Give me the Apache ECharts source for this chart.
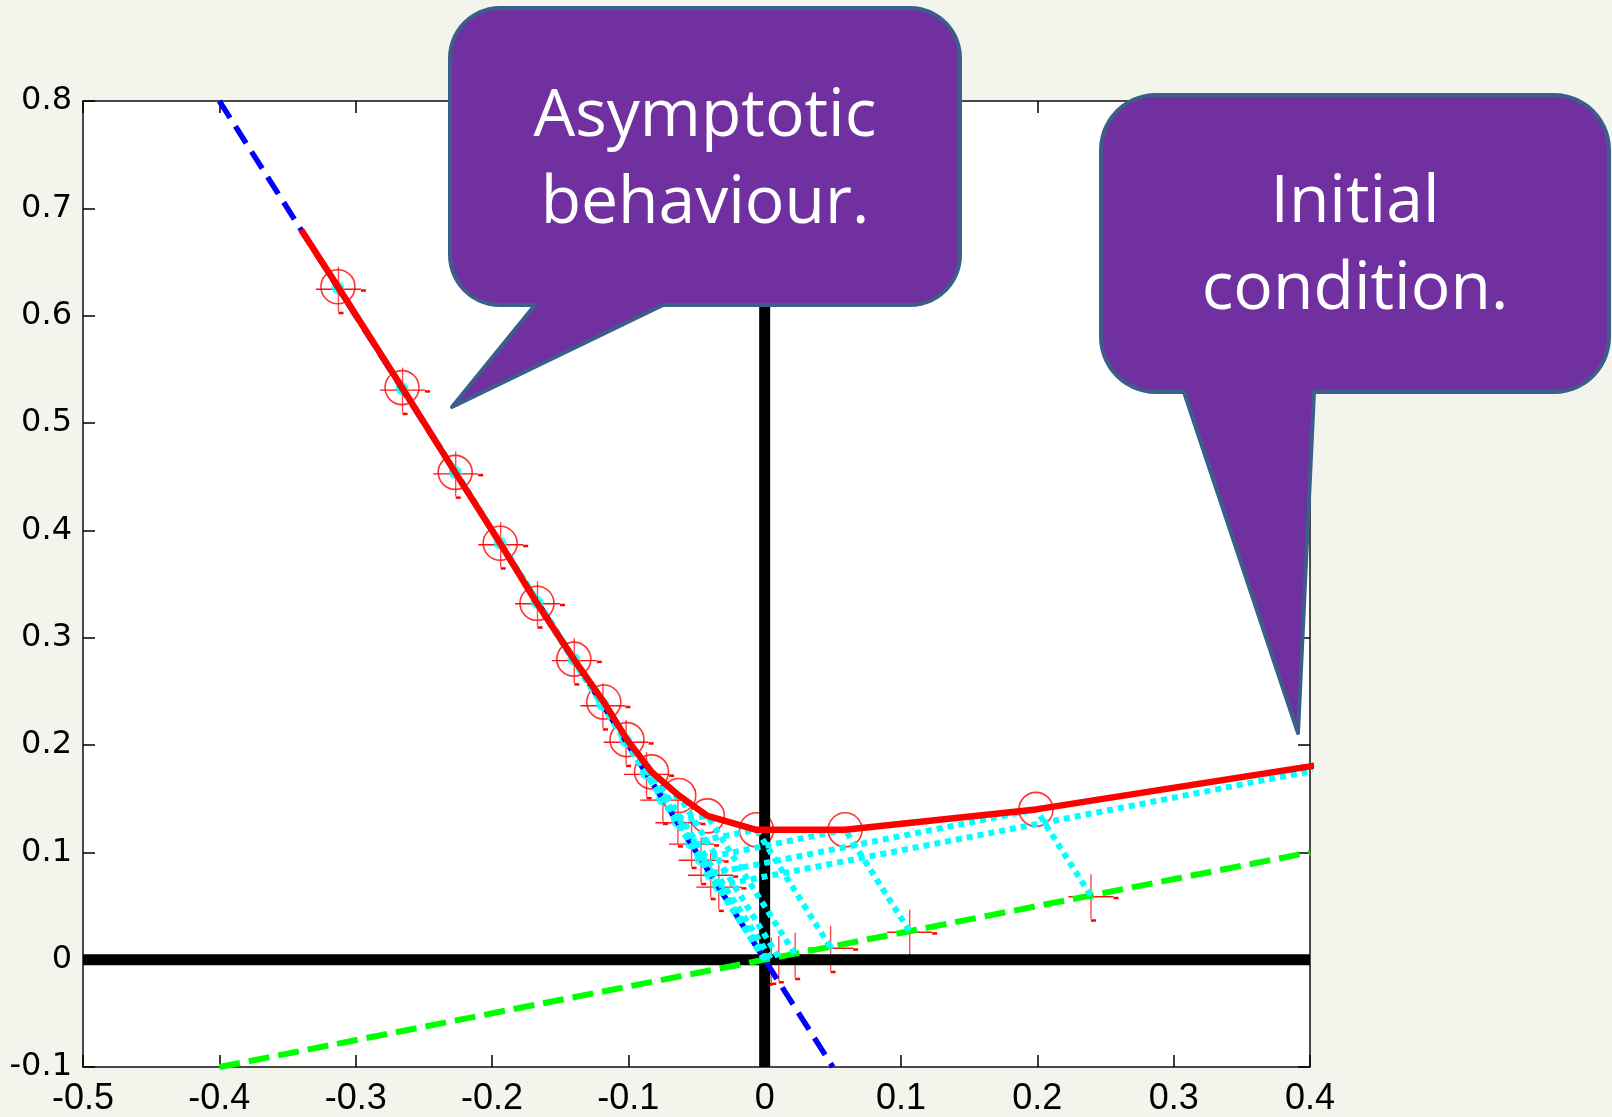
<!DOCTYPE html>
<html>
<head>
<meta charset="utf-8">
<script src="https://cdn.jsdelivr.net/npm/echarts@6/dist/echarts.min.js"></script>
<style>
html,body{margin:0;padding:0;background:#f3f5ed;}
#chart{width:1612px;height:1117px;}
</style>
</head>
<body>
<div id="chart"></div>
<script>
// ---- axis ranges ----
const X_MIN = -0.5, X_MAX = 0.4, X_STEP = 0.1;
const Y_MIN = -0.1, Y_MAX = 0.8, Y_STEP = 0.1;

// ---- reference lines (x, y pairs) ----
const zeroLineH = [[-0.5, 0], [0.4, 0]];
const zeroLineV = [[0, -0.1], [0, 0.8]];
const asymptoteLine = [[-0.4, 0.8], [0.05, -0.1]];   // blue dashed
const fastLine = [[-0.4, -0.1], [0.4, 0.1]];          // green dashed

// ---- trajectory (first point = initial condition, off to the right) ----
const trajX = [0.500, 0.199, 0.059, -0.006, -0.042, -0.063, -0.083, -0.101, -0.118, -0.140, -0.167, -0.194, -0.227, -0.266, -0.313];
const trajY = [0.200, 0.140, 0.121, 0.121, 0.134, 0.153, 0.175, 0.205, 0.240, 0.280, 0.332, 0.388, 0.454, 0.533, 0.627];
const trajEnd = [-0.340, 0.680];

// ---- components along the blue (asymptotic) direction ----
const asymX = [-0.034, -0.040, -0.047, -0.054, -0.064, -0.075, -0.087, -0.102, -0.119, -0.140, -0.167, -0.194, -0.227, -0.266, -0.313];
const asymY = [0.069, 0.080, 0.094, 0.109, 0.129, 0.150, 0.174, 0.204, 0.238, 0.280, 0.333, 0.388, 0.454, 0.532, 0.626];

// ---- components along the green (fast) direction ----
const fastX = [0.533, 0.239, 0.106, 0.048, 0.022, 0.010, 0.0045, 0.002, 0.001, 0.0004, 0.0002, 0.0001, 0.0, 0.0, 0.0];
const fastY = [0.133, 0.060, 0.027, 0.012, 0.0055, 0.0025, 0.0011, 0.0005, 0.00025, 0.0001, 0.00005, 0.0, 0.0, 0.0, 0.0];

// ---- callout texts ----
const callout1Lines = ['Asymptotic', 'behaviour.'];
const callout2Lines = ['Initial', 'condition.'];

// ---------------------------------------------------------------
const inRange = p => p[0] >= X_MIN && p[0] <= X_MAX && p[1] >= Y_MIN && p[1] <= Y_MAX;
const traj = trajX.map((x, i) => [x, trajY[i]]);
const asym = asymX.map((x, i) => [x, asymY[i]]);
const fast = fastX.map((x, i) => [x, fastY[i]]);

const RED = '#ff0000', CYAN = '#00ffff', BLUE = '#0000ff', GREEN = '#00ff00';

const series = [];
function addLine(data, color, width, dash) {
  series.push({
    type: 'line', data: data, symbol: 'none', silent: true, clip: true,
    lineStyle: { color: color, width: width, type: dash || 'solid', cap: 'butt' },
    animation: false
  });
}
addLine(zeroLineH, '#000', 11);
addLine(zeroLineV, '#000', 11);
addLine(asymptoteLine, BLUE, 5.5, [20, 10]);
addLine(fastLine, GREEN, 6, [21, 9]);
// cyan dotted construction segments (drawn from each component to the trajectory point)
traj.forEach((p, i) => {
  addLine([fast[i], p], CYAN, 6, [6, 5]);
  addLine([asym[i], p], CYAN, 6, [6, 5]);
});
// cyan dots at the components
series.push({
  type: 'scatter', data: asym.filter(inRange), symbol: 'circle', symbolSize: 13,
  itemStyle: { color: CYAN }, silent: true, animation: false
});
series.push({
  type: 'scatter', data: fast.filter(inRange), symbol: 'circle', symbolSize: 7,
  itemStyle: { color: CYAN }, silent: true, animation: false
});
// red trajectory
addLine(traj.concat([trajEnd]), RED, 6.5);
// red open circles
series.push({
  type: 'scatter', data: traj.filter(inRange), symbol: 'circle', symbolSize: 34,
  itemStyle: { color: 'rgba(0,0,0,0)', borderColor: RED, borderWidth: 1.6 },
  silent: true, animation: false
});
// red crosshair markers at both components
series.push({
  type: 'custom', data: asym.concat(fast).filter(inRange), silent: true, animation: false,
  renderItem: function (params, api) {
    const c = api.coord([api.value(0), api.value(1)]);
    const x = c[0], y = c[1];
    return {
      type: 'group', children: [
        { type: 'line', shape: { x1: x - 22, y1: y + 1.5, x2: x + 23, y2: y + 1.5 }, style: { stroke: '#ff1010', lineWidth: 1.4 } },
        { type: 'line', shape: { x1: x + 0.5, y1: y - 21, x2: x + 0.5, y2: y + 24 }, style: { stroke: '#ff4a4a', lineWidth: 1.4 } },
        { type: 'rect', shape: { x: x + 23, y: y + 1.5, width: 5, height: 2.5 }, style: { fill: RED } },
        { type: 'rect', shape: { x: x + 0.5, y: y + 24, width: 5, height: 2.5 }, style: { fill: RED } }
      ]
    };
  }
});

// ---- callout shapes (pixel layout) as polygons ----
function arcPts(cx, cy, rad, a0, a1, out) {
  const n = 14;
  for (let k = 0; k <= n; k++) {
    const a = a0 + (a1 - a0) * k / n;
    out.push([cx + rad * Math.cos(a), cy + rad * Math.sin(a)]);
  }
}
function calloutPoly(l, t, r, b, rad, tail) {
  const pts = [];
  arcPts(l + rad, t + rad, rad, Math.PI, 1.5 * Math.PI, pts);
  arcPts(r - rad, t + rad, rad, 1.5 * Math.PI, 2 * Math.PI, pts);
  arcPts(r - rad, b - rad, rad, 0, 0.5 * Math.PI, pts);
  pts.push([tail[1], b]);
  pts.push([tail[2], tail[3]]);
  pts.push([tail[0], b]);
  arcPts(l + rad, b - rad, rad, 0.5 * Math.PI, Math.PI, pts);
  return pts;
}
const calloutStyle = { fill: '#7030a0', stroke: '#3b5e8b', lineWidth: 4, lineJoin: 'round' };
const textEl = (s, x, y) => ({
  type: 'text', x: x, y: y, z: 101,
  style: { text: s, font: '66px "Open Sans"', fill: '#ffffff', align: 'center', verticalAlign: 'middle' }
});

const graphic = [
  { type: 'polygon', z: 100, shape: { points: calloutPoly(450, 8, 960, 305, 50, [535, 663, 452, 407]) }, style: calloutStyle },
  textEl(callout1Lines[0], 705, 117),
  textEl(callout1Lines[1], 705, 204),
  { type: 'polygon', z: 100, shape: { points: calloutPoly(1101, 95, 1609, 392, 55, [1184, 1314, 1298, 733]) }, style: calloutStyle },
  textEl(callout2Lines[0], 1355, 203),
  textEl(callout2Lines[1], 1355, 290)
];

const tickStyle = { show: true, inside: true, length: 12, lineStyle: { color: '#000', width: 1.5 } };
const noLine = { show: false, onZero: false };
const option = {
  backgroundColor: '#f3f5ed',
  animation: false,
  grid: { left: 83, right: 302, top: 101, bottom: 50, show: true, backgroundColor: '#ffffff', borderColor: '#111', borderWidth: 1.5 },
  xAxis: [
    { type: 'value', min: X_MIN, max: X_MAX, interval: X_STEP, position: 'bottom',
      axisLine: noLine, splitLine: { show: false }, axisTick: tickStyle,
      axisLabel: { margin: 14, color: '#000', fontFamily: '"Liberation Sans"', fontSize: 36 } },
    { type: 'value', min: X_MIN, max: X_MAX, interval: X_STEP, position: 'top',
      axisLine: noLine, splitLine: { show: false }, axisTick: tickStyle, axisLabel: { show: false } }
  ],
  yAxis: [
    { type: 'value', min: Y_MIN, max: Y_MAX, interval: Y_STEP, position: 'left',
      axisLine: noLine, splitLine: { show: false }, axisTick: tickStyle,
      axisLabel: { margin: 11, color: '#000', fontFamily: '"DejaVu Sans"', fontSize: 32 } },
    { type: 'value', min: Y_MIN, max: Y_MAX, interval: Y_STEP, position: 'right',
      axisLine: noLine, splitLine: { show: false }, axisTick: tickStyle, axisLabel: { show: false } }
  ],
  series: series,
  graphic: graphic
};
const chart = echarts.init(document.getElementById('chart'), null, { renderer: 'canvas' });
chart.setOption(option);
</script>
</body>
</html>
